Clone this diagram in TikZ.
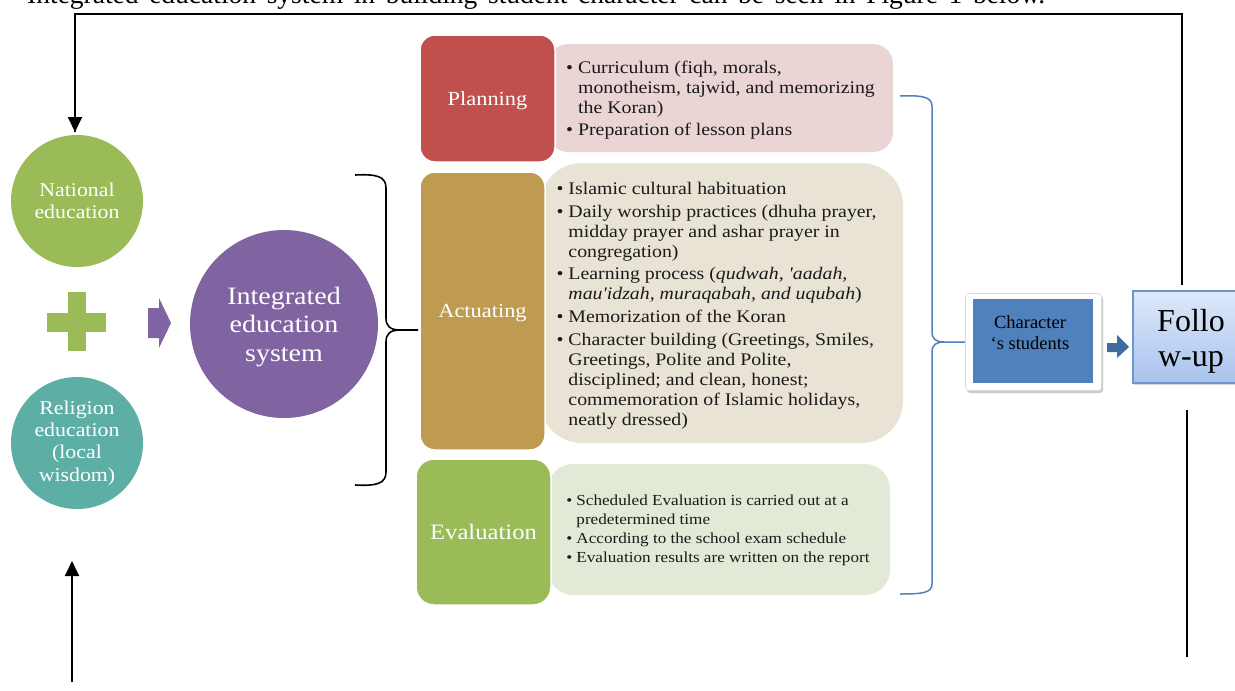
\documentclass[tikz,border=0pt]{standalone}
\usepackage{fontspec}
\setmainfont{Liberation Serif}
\newfontfamily\camb[FakeStretch=1.12]{Liberation Serif}
\usetikzlibrary{arrows.meta,shadows}
\definecolor{natgreen}{HTML}{9BBB59}
\definecolor{relteal}{HTML}{5DAFA6}
\definecolor{intpurple}{HTML}{8064A2}
\definecolor{planred}{HTML}{C0504D}
\definecolor{plancont}{HTML}{EAD4D4}
\definecolor{actgold}{HTML}{BF9B52}
\definecolor{actcont}{HTML}{E9E3D5}
\definecolor{evalcont}{HTML}{E2E9D6}
\definecolor{chblue}{HTML}{4F81BD}
\definecolor{arrblue}{HTML}{3F6B9F}
\definecolor{fuborder}{HTML}{7094CF}
\definecolor{futop}{HTML}{DEE8FA}
\definecolor{fubot}{HTML}{A9C3EE}
\definecolor{txtdark}{HTML}{1A1A1A}
\begin{document}
\begin{tikzpicture}[x=1pt,y=-1pt,
  circ/.style={circle, inner sep=0pt, text=white, align=center},
  lab/.style={rounded corners=15pt, draw=white, line width=1.5pt, text=white, inner sep=0pt, text depth=0pt, font=\camb\fontsize{20}{24}\selectfont},
  cont/.style={inner sep=0pt},
  conttext/.style={inner sep=0pt, text=txtdark, align=left},
  fb/.style={line width=2pt, black},
  fbarrow/.style={fb, -{Triangle[width=14pt,length=15pt]}},
  bracestyle/.style={line width=1.6pt, black},
  bluebrace/.style={line width=1.5pt, chblue},
]
\useasboundingbox (0,0) rectangle (1235,691);
\fill[white] (0,0) rectangle (1235,691);

% cut-off caption line at the top
\node[anchor=base west, inner sep=0pt, font=\fontsize{27.5}{31}\selectfont] (cap) at (27,3)
  {\makebox[1018pt][s]{Integrated education system in building student character can be seen in Figure 1 below.}};

% left circles
\node[circ, fill=natgreen, minimum size=132pt, font=\camb\fontsize{19.5}{22}\selectfont] (nat) at (77,201) {National\\education};
\node[circ, fill=relteal, minimum size=132pt, font=\camb\fontsize{19.5}{22.3}\selectfont] (rel) at (77,443) {Religion\\education\\(local\\wisdom)};
% plus sign
\fill[natgreen] (47,313) rectangle (106,332);
\fill[natgreen] (68,292) rectangle (86,351);
% purple arrow
\fill[intpurple] (148,308) -- (159,308) -- (159,298) -- (171,323) -- (159,348) -- (159,338) -- (148,338) -- cycle;
% integrated circle
\node[circ, fill=intpurple, minimum size=188pt, text depth=0pt, font=\camb\fontsize{25}{28.5}\selectfont] (ies) at (284,324) {Integrated\\education\\system};

% black brace
\coordinate (bt) at (355,175);
\coordinate (bb) at (355,485);
\coordinate (btip) at (400,330);
\coordinate (bend) at (418,330);
\draw[bracestyle] (bt) .. controls (376,174) and (386,176) .. (386,188) -- (386,318) .. controls (386,326) and (390,330) .. (btip) -- (bend);
\draw[bracestyle] (btip) .. controls (390,330) and (386,334) .. (386,342) -- (386,472) .. controls (386,484) and (376,486) .. (bb);

% content boxes
\node[cont, fill=plancont, rounded corners=20pt, minimum width=345pt, minimum height=108pt] (pc) at (720.5,98) {};
\node[cont, fill=actcont, rounded corners=42pt, minimum width=363pt, minimum height=280pt] (ac) at (721.5,303) {};
\node[cont, fill=evalcont, rounded corners=25pt, minimum width=342pt, minimum height=131pt] (ec) at (719,529.5) {};

% content texts
\node[conttext, font=\camb\fontsize{17.7}{20}\selectfont] (pct) at (720.5,100) {%
\begin{tabular}{@{}l@{\hspace{5pt}}l@{}}
\textbullet & Curriculum (fiqh, morals,\\
 & monotheism, tajwid, and memorizing\\
 & the Koran)\\[2pt]
\textbullet & Preparation of lesson plans
\end{tabular}};
\node[conttext, font=\camb\fontsize{17.7}{20}\selectfont] (act) at (716.5,305.5) {%
\begin{tabular}{@{}l@{\hspace{5pt}}l@{}}
\textbullet & Islamic cultural habituation\\[3pt]
\textbullet & Daily worship practices (dhuha prayer,\\
 & midday prayer and ashar prayer in\\
 & congregation)\\[2pt]
\textbullet & Learning process (\textit{qudwah, 'aadah,}\\
 & \textit{mau'idzah, muraqabah, and uqubah})\\[3pt]
\textbullet & Memorization of the Koran\\[3pt]
\textbullet & Character building (Greetings, Smiles,\\
 & Greetings, Polite and Polite,\\
 & disciplined; and clean, honest;\\
 & commemoration of Islamic holidays,\\
 & neatly dressed)
\end{tabular}};
\node[conttext, font=\camb\fontsize{15.3}{19}\selectfont] (ect) at (718,530.5) {%
\begin{tabular}{@{}l@{\hspace{4pt}}l@{}}
\textbullet & Scheduled Evaluation is carried out at a\\
 & predetermined time\\
\textbullet & According to the school exam schedule\\
\textbullet & Evaluation results are written on the report
\end{tabular}};

% labels
\node[lab, fill=planred, minimum width=135pt, minimum height=127pt] (pl) at (487.5,98.5) {Planning};
\node[lab, fill=actgold, minimum width=125pt, minimum height=278pt] (al) at (482.5,311) {Actuating};
\node[lab, fill=natgreen, rounded corners=18pt, minimum width=135pt, minimum height=146pt, font=\camb\fontsize{22}{26}\selectfont] (el) at (483.5,532) {Evaluation};

% blue brace
\coordinate (ut) at (900,96);
\coordinate (ub) at (900,594);
\coordinate (utip) at (944,342);
\coordinate (uend) at (966,342);
\draw[bluebrace] (ut) .. controls (922,95) and (932,97) .. (932,106) -- (932,332) .. controls (932,339) and (936,342) .. (utip) -- (uend);
\draw[bluebrace] (utip) .. controls (936,342) and (932,345) .. (932,352) -- (932,584) .. controls (932,593) and (922,594) .. (ub);

% character's students
\node[fill=white, draw=black!15, line width=0.6pt, minimum width=136pt, minimum height=97pt, inner sep=0pt, rounded corners=3pt,
  drop shadow={opacity=0.4, shadow xshift=1.5pt, shadow yshift=-2.5pt}] (chf) at (1033.5,342) {};
\node[fill=chblue, minimum width=120pt, minimum height=84pt, inner sep=0pt] (ch) at (1033,341) {};
\node[inner sep=0pt, align=center, text=black, font=\fontsize{18.5}{21}\selectfont] (cht) at (1030,333) {Character\\‘s students};
% small arrow
\fill[arrblue] (1107,343) -- (1117,343) -- (1117,335) -- (1129,347) -- (1117,358) -- (1117,352) -- (1107,352) -- cycle;
% follow-up
\node[draw=fuborder, line width=1.2pt, top color=futop, bottom color=fubot, minimum width=120pt, minimum height=92pt,
  inner sep=0pt, drop shadow={opacity=0.3, shadow xshift=1pt, shadow yshift=-2pt}] (fu) at (1193,337) {};
\node[inner sep=0pt, align=center, font=\fontsize{32}{35}\selectfont] (fut) at (1191,341) {Follo\\w-up};

% feedback line
\coordinate (fstart) at (1182,285);
\coordinate (fcr) at (1182,14);
\coordinate (fcl) at (75,14);
\coordinate (fend) at (75,132);
\draw[fb] (fstart) -- (fcr) -- (fcl) -- (fend);
\draw[fbarrow] (fcl) -- (fend);
% lower lines
\coordinate (la) at (72,682);
\coordinate (lb) at (72,561);
\draw[fbarrow] (la) -- (lb);
\coordinate (ra) at (1187,410);
\coordinate (rb) at (1187,657);
\draw[fb] (ra) -- (rb);
\end{tikzpicture}
\end{document}
